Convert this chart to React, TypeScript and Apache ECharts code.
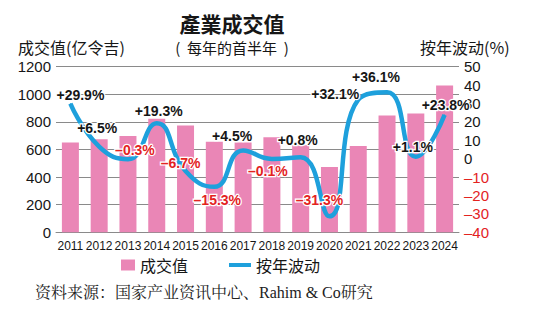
import React, { useEffect, useRef } from "react";
import * as echarts from "echarts";

const years = ["2011", "2012", "2013", "2014", "2015", "2016", "2017", "2018", "2019", "2020", "2021", "2022", "2023", "2024"];
const tradeValue = [650, 675, 697, 822, 774, 656, 650, 689, 630, 473, 625, 846, 860, 1064];
const yoyChange = [29.9, 6.5, -0.3, 19.3, -6.7, -15.3, 4.5, -0.1, 0.8, -31.3, 32.1, 36.1, 1.1, 23.8];

// label offsets (layout only)
const labelOffsets: [number, number][] = [
  [10, -9], [-2, -19], [7, -9], [2, -12], [-5, -8], [3, 13], [-11, -14],
  [-4, 12], [-3, -17], [-10, -16], [-23, -6], [-11, -15], [-3, -10], [1, -10],
];

const PINK = "#ea86b6";
const BLUE = "#1ea0dc";
const RED = "#e3231f";
const INK = "#161616";
const SANS = "'Liberation Sans', Arial, 'Noto Sans CJK SC', sans-serif";
const CJK = "'Noto Sans CJK SC', 'Liberation Sans', sans-serif";

const fmt = (v: number) => (v >= 0 ? "+" : "–") + Math.abs(v).toFixed(1) + "%";

export default function App() {
  const ref = useRef<HTMLDivElement>(null);
  useEffect(() => {
    if (!ref.current) return;
    const chart = echarts.init(ref.current, undefined, { renderer: "svg" });
    const lineData = yoyChange.map((v, i) => ({
      value: v,
      label: {
        offset: labelOffsets[i],
        color: v >= 0 ? INK : RED,
      },
    }));
    chart.setOption({
      animation: false,
      backgroundColor: "#fff",
      grid: { left: 56, top: 66.7, width: 403, height: 165.6 },
      graphic: [
        { type: "text", x: 232, y: 23, style: { text: "產業成交值", font: `bold 21px ${CJK}`, fill: INK, textAlign: "center", textVerticalAlign: "middle" } },
        { type: "text", x: 232, y: 47, style: { text: "(  每年的首半年  )", font: `15px ${CJK}`, fill: INK, textAlign: "center", textVerticalAlign: "middle" } },
        { type: "text", x: 18, y: 47, style: { text: "成交值(亿令吉)", font: `16px ${CJK}`, fill: INK, textAlign: "left", textVerticalAlign: "middle" } },
        { type: "text", x: 420, y: 47, style: { text: "按年波动(%)", font: `16px ${CJK}`, fill: INK, textAlign: "left", textVerticalAlign: "middle" } },
        { type: "text", x: 35, y: 292, style: { text: "资料来源：国家产业资讯中心、Rahim & Co研究", font: `16px 'Liberation Serif', 'Noto Serif CJK SC', serif`, fill: "#222", textAlign: "left", textVerticalAlign: "middle" } },
      ],
      legend: [
        {
          data: ["成交值"], left: 121, top: 257, padding: 0, icon: "rect", itemWidth: 14, itemHeight: 11,
          textStyle: { fontFamily: CJK, fontSize: 16, color: INK },
        },
        {
          data: ["按年波动"], left: 229, top: 257, padding: 0, icon: "rect", itemWidth: 22, itemHeight: 4,
          textStyle: { fontFamily: CJK, fontSize: 16, color: INK },
        },
      ],
      xAxis: {
        type: "category",
        data: years,
        axisLine: { show: true, lineStyle: { color: "#8a8a8a", width: 1 } },
        axisTick: { show: false },
        axisLabel: {
          interval: 0, margin: 8, color: INK, fontSize: 12,
          fontFamily: "'Liberation Sans', Arial, sans-serif",
        },
      },
      yAxis: [
        {
          type: "value", min: 0, max: 1200, interval: 200,
          axisLine: { show: false }, axisTick: { show: false },
          splitLine: { show: true, lineStyle: { color: "#8a8a8a", width: 1 } },
          axisLabel: { color: INK, fontSize: 15, fontFamily: SANS, margin: 5, formatter: (v: number) => String(v) },
        },
        {
          type: "value", min: -40, max: 50, interval: 10,
          axisLine: { show: false }, axisTick: { show: false },
          splitLine: { show: false },
          axisLabel: {
            fontSize: 15, fontFamily: SANS, margin: 5,
            formatter: (v: number) => (v < 0 ? `{n|–${Math.abs(v)}}` : `{p|${v}}`),
            rich: {
              n: { color: RED, fontSize: 15, fontFamily: SANS },
              p: { color: INK, fontSize: 15, fontFamily: SANS },
            },
          },
        },
      ],
      series: [
        {
          name: "成交值",
          type: "bar",
          data: tradeValue,
          barWidth: 17,
          itemStyle: { color: PINK },
          z: 1,
        },
        {
          name: "按年波动",
          type: "line",
          yAxisIndex: 1,
          data: lineData,
          smooth: 0.5,
          symbol: "circle",
          symbolSize: 1,
          showSymbol: true,
          lineStyle: { color: BLUE, width: 4.5 },
          itemStyle: { color: BLUE },
          z: 3,
          label: {
            show: true,
            position: "inside",
            formatter: (p: any) => fmt(p.value),
            fontFamily: SANS,
            fontWeight: "bold",
            fontSize: 14,
            textBorderColor: "#fff",
            textBorderWidth: 2.5,
          },
        },
      ],
    });
    return () => chart.dispose();
  }, []);
  return (
    <div
      ref={ref}
      style={{ position: "fixed", left: 0, top: 0, width: 533, height: 324, background: "#fff" }}
    />
  );
}
